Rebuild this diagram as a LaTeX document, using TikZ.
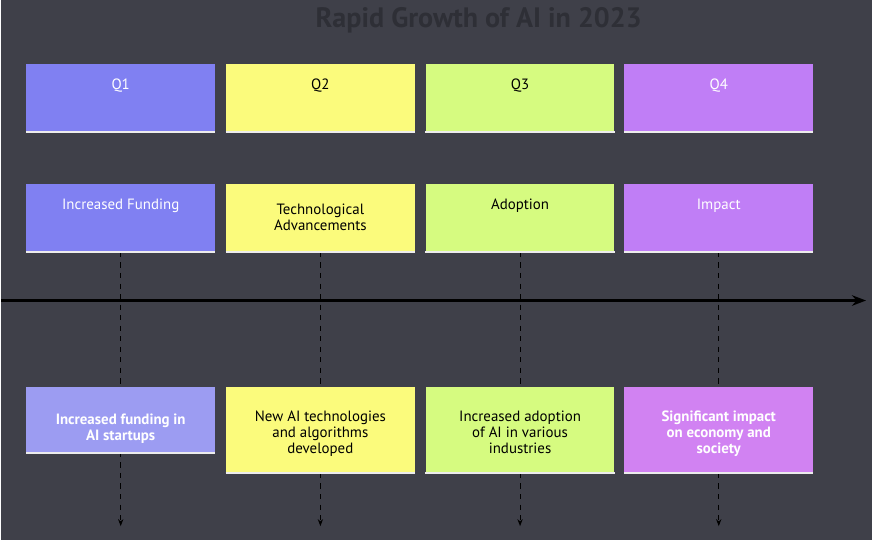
\documentclass[tikz,border=0pt]{standalone}
\usepackage{fontspec}
\setmainfont{PT Sans}
\usetikzlibrary{positioning}
\usetikzlibrary{arrows.meta}
\definecolor{bg}{HTML}{3F4049}
\definecolor{titlec}{HTML}{2E2F36}
\definecolor{qone}{HTML}{8080F2}
\definecolor{qtwo}{HTML}{FBFB7C}
\definecolor{qthree}{HTML}{D6FB80}
\definecolor{qfour}{HTML}{C07EF6}
\definecolor{qonel}{HTML}{9C9CF2}
\definecolor{qfourl}{HTML}{D182F2}
\newcommand{\topgap}{\rule{0pt}{2.1em}}
\begin{document}
\begin{tikzpicture}[x=0.02cm,y=-0.02cm,
    box/.style={rectangle, minimum width=3.78cm, minimum height=1.36cm, inner sep=2pt,
      align=center, font=\fontsize{8.5}{9.2}\selectfont},
    note/.style={box, anchor=north, minimum height=1.66cm, text depth=0.3cm},
    light/.style={text=white},
    dark/.style={text=black},
    guide/.style={dashed, black, line width=0.6pt, -{Stealth[length=4pt]}},
    base/.style={white!85!gray, line width=1.3pt}]
\fill[bg] (0,0) rectangle (872,541);
\node[text=titlec, font=\fontsize{16}{16}\selectfont\bfseries] (title) at (478,20) {Rapid Growth of AI in 2023};
% quarters
\node[box, light, fill=qone] (q1) at (119.5,98) {Q1\\[6.5pt]};
\node[box, dark, fill=qtwo] (q2) at (319.5,98) {Q2\\[6.5pt]};
\node[box, dark, fill=qthree] (q3) at (519.5,98) {Q3\\[6.5pt]};
\node[box, light, fill=qfour] (q4) at (718.5,98) {Q4\\[6.5pt]};
% topics
\node[box, light, fill=qone] (t1) at (119.5,218) {Increased Funding\\[6.5pt]};
\node[box, dark, fill=qtwo] (t2) at (319.5,218) {Technological\\Advancements};
\node[box, dark, fill=qthree] (t3) at (519.5,218) {Adoption\\[6.5pt]};
\node[box, light, fill=qfour] (t4) at (718.5,218) {Impact\\[6.5pt]};
% timeline
\coordinate (tl0) at (0,301);
\coordinate (tl1) at (866,301);
\draw[black, line width=1.6pt, -{Stealth[length=8pt]}] (tl0) -- (tl1);
\foreach \i/\x in {1/119.5,2/319.5,3/519.5,4/718.5} {
  \coordinate (e\i) at (\x,527);
  \draw[guide] (t\i.south) -- (e\i);
}
% details
\node[note, light, fill=qonel, minimum height=1.32cm, text depth=0.12cm] (d1) at (119.5,387) {\topgap\textbf{Increased funding in}\\\textbf{AI startups}};
\node[note, dark, fill=qtwo] (d2) at (319.5,387) {\topgap New AI technologies\\and algorithms\\developed};
\node[note, dark, fill=qthree] (d3) at (519.5,387) {\topgap Increased adoption\\of AI in various\\industries};
\node[note, light, fill=qfourl] (d4) at (718.5,387) {\topgap\textbf{Significant impact}\\\textbf{on economy and}\\\textbf{society}};
\foreach \n in {q1,q2,q3,q4,t1,t2,t3,t4,d1,d2,d3,d4}
  \draw[base] (\n.south west) -- (\n.south east);
\end{tikzpicture}
\end{document}
